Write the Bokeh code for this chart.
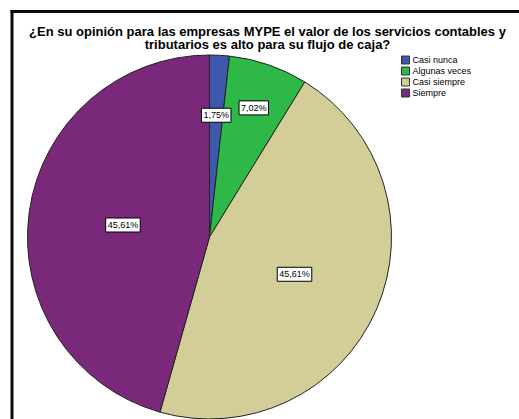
import numpy as np
from bokeh.plotting import figure
from bokeh.models import Range1d, ColumnDataSource
from bokeh.core.properties import value
from bokeh.embed import file_html
from bokeh.resources import INLINE

# ---- data ----
title_lines = ["¿En su opinión para las empresas MYPE el valor de los servicios contables y",
               "tributarios es alto para su flujo de caja?"]
categories = ["Casi nunca", "Algunas veces", "Casi siempre", "Siempre"]
percentages = [1.75, 7.02, 45.61, 45.61]
labels = ["1,75%", "7,02%", "45,61%", "45,61%"]
colors = ["#3E58AC", "#2EB848", "#D3CE97", "#7A287A"]

# ---- layout (pixel space of the page) ----
W, H = 519, 419
def Y(py):  # page y (top-down) -> data y (bottom-up)
    return H - py

cx, cy, R = 209, Y(236.5), 182
label_r = [0.67, 0.75, 0.51, 0.48]

p = figure(width=W, height=H, output_backend="svg", toolbar_location=None,
           x_range=Range1d(0, W), y_range=Range1d(0, H),
           min_border=0, min_border_left=0, min_border_right=0,
           min_border_top=0, min_border_bottom=0, title=None)
p.axis.visible = False
p.grid.visible = False
p.outline_line_color = None
p.background_fill_color = "white"
p.border_fill_color = "white"

# frame border (top and left visible)
xs = np.arange(10, W, 50)
p.segment(x0=xs, y0=[Y(11)] * len(xs), x1=np.minimum(xs + 51, W - 0.5),
          y1=[Y(11)] * len(xs), line_color="#0a0a0a", line_width=3)
p.segment(x0=[11.5], y0=[Y(9.5)], x1=[11.5], y1=[0],
          line_color="#0a0a0a", line_width=3)

# wedges
frac = np.array(percentages) / sum(percentages)
cum = np.concatenate([[0], np.cumsum(frac)])
start = np.pi / 2 - 2 * np.pi * cum[:-1]
end = np.pi / 2 - 2 * np.pi * cum[1:]
src = ColumnDataSource(dict(start=start, end=end, color=colors))
p.wedge(x=cx, y=cy, radius=R, start_angle="start", end_angle="end",
        direction="clock", fill_color="color", line_color="#222222",
        line_width=1, source=src)

# labels
mid = (start + end) / 2
lx = cx + np.array(label_r) * R * np.cos(mid)
ly = cy + np.array(label_r) * R * np.sin(mid)
p.text(x=lx, y=ly, text=labels, text_font=value("Liberation Sans"),
       text_font_size="9px", text_align="center", text_baseline="middle",
       text_color="black", background_fill_color="white",
       border_line_color="black", border_line_width=1, padding=2)

# title
p.text(x=[267, 267], y=[Y(31), Y(44)], text=title_lines,
       text_font=value("Liberation Sans"), text_font_style="bold",
       text_font_size="13px", text_align="center", text_baseline="alphabetic",
       text_color="black")

# legend
n = len(categories)
leg_y = [Y(59.5 + 11 * i) for i in range(n)]
p.rect(x=[405] * n, y=leg_y, width=8, height=8, width_units="screen",
       height_units="screen", fill_color=colors, line_color="#333333", line_width=1)
p.text(x=[412] * n, y=leg_y, text=categories, text_font=value("Liberation Sans"),
       text_font_size="9px", text_align="left", text_baseline="middle",
       text_color="black")

open("out.html", "w").write(file_html(p, INLINE))
